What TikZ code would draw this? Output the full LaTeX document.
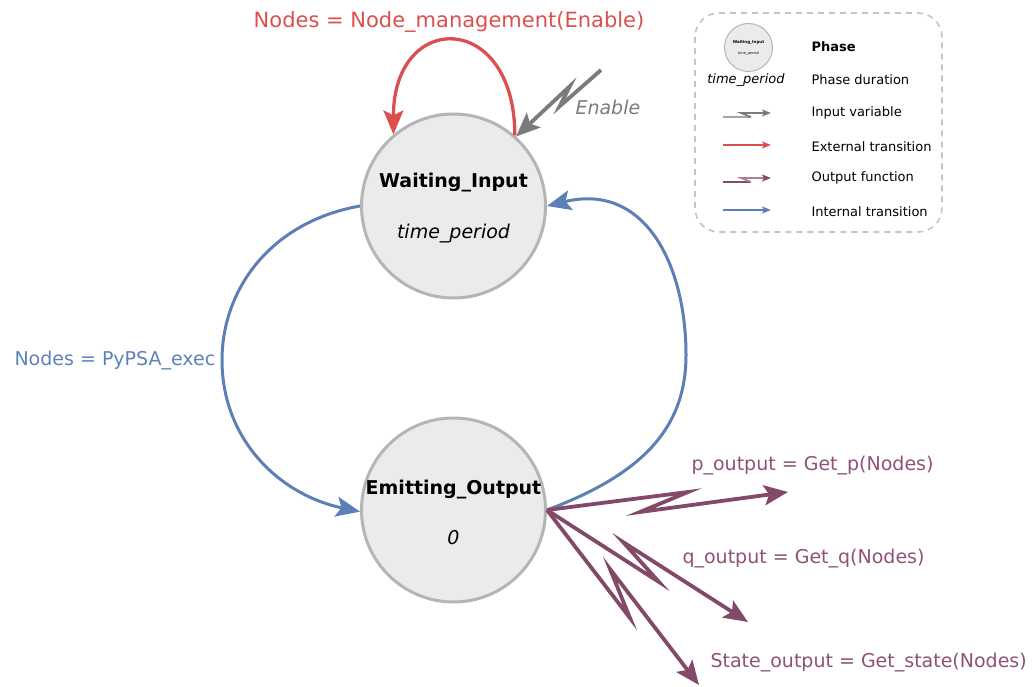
\documentclass[tikz,border=0pt]{standalone}
\usepackage{fontspec}
\setmainfont{DejaVu Sans}
\usetikzlibrary{arrows.meta}
\definecolor{cred}{HTML}{DC4F4F}
\definecolor{cblue}{HTML}{5B80B6}
\definecolor{cbluet}{HTML}{5E82B8}
\definecolor{cpurp}{HTML}{824A68}
\definecolor{cpurpl}{HTML}{B07D97}
\definecolor{cpurpt}{HTML}{8D5275}
\definecolor{cgray}{HTML}{7B7B7B}
\definecolor{cgrayl}{HTML}{A5A5A5}
\definecolor{cfill}{HTML}{EBEBEB}
\definecolor{cstroke}{HTML}{B5B5B5}
\definecolor{cdash}{HTML}{C4C4C4}
\begin{document}
\begin{tikzpicture}[x=1pt,y=-1pt,
  phase/.style={circle,draw=cstroke,fill=cfill,line width=3pt,minimum size=184pt,inner sep=0pt},
  smallphase/.style={circle,draw=cstroke,fill=cfill,line width=1pt,minimum size=48pt,inner sep=0pt},
  big/.style={font=\fontsize{19}{22}\selectfont},
  bigtip/.style={-{Stealth[length=24pt,width=20pt,inset=5pt]}},
  smalltip/.style={-{Stealth[length=9pt,width=7pt,inset=2pt]}},
  redarr/.style={draw=cred,line width=3.3pt,bigtip},
  bluearr/.style={draw=cblue,line width=3pt,bigtip},
  grayarr/.style={draw=cgray,line width=3.8pt,bigtip},
  purparr/.style={draw=cpurp,line width=3.8pt,bigtip},
  legline/.style={line width=1.6pt},
  legtext/.style={font=\fontsize{13}{15}\selectfont,anchor=base west},
  lbl/.style={big,anchor=base west}
]
\useasboundingbox (0,0) rectangle (1033,687);

% phases
\node[phase] (WI) at (453.5,206) {};
\node[phase] (EO) at (453.5,510) {};
\node[big,anchor=base,font=\fontsize{19}{22}\selectfont\bfseries] (WIt) at (453.5,188) {Waiting\_Input};
\node[big,anchor=base,font=\fontsize{19}{22}\selectfont\itshape] (WId) at (453.5,238) {time\_period};
\node[big,anchor=base,font=\fontsize{19}{22}\selectfont\bfseries] (EOt) at (453.5,494) {Emitting\_Output};
\node[big,anchor=base,font=\fontsize{19}{22}\selectfont\itshape] (EOd) at (453.5,544) {0};

% external transition (self loop)
\draw[redarr] (WI.49) .. controls +(0,-125) and +(0,-125) .. (WI.130);
\node[anchor=base,text=cred,font=\fontsize{21}{24}\selectfont] (extl) at (449,27.5) {Nodes = Node\_management(Enable)};

% input variable
\coordinate (en0) at (601,70);
\coordinate (en1) at (559.5,106.5);
\coordinate (en2) at (570,86);
\draw[grayarr] (en0) -- (en1) -- (en2) -- (WI.48);
\node[lbl,text=cgray,font=\fontsize{19}{22}\selectfont\itshape] (enl) at (572,115) {Enable};

% internal transitions
\draw[bluearr] (WI.180) .. controls (270,222) and (222,290) .. (222,360)
  .. controls (222,440) and (280,495) .. (EO.181);
\node[lbl,text=cbluet] (intl) at (11,365) {Nodes = PyPSA\_exec};
\draw[bluearr] (EO.east) .. controls (640,475) and (686,430) .. (686,355)
  .. controls (686,265) and (645,182) .. (WI.0);

% output functions
\coordinate (p1) at (688,492);
\coordinate (p2) at (640,512);
\coordinate (p3) at (788,492);
\draw[purparr] (EO.east) -- (p1) -- (p2) -- (p3);
\node[lbl,text=cpurpt] (pl) at (688,470) {p\_output = Get\_p(Nodes)};
\coordinate (q1) at (659,582);
\coordinate (q2) at (623,542);
\coordinate (q3) at (748,622);
\draw[purparr] (EO.east) -- (q1) -- (q2) -- (q3);
\node[lbl,text=cpurpt] (ql) at (679,563) {q\_output = Get\_q(Nodes)};
\coordinate (s1) at (630,618);
\coordinate (s2) at (610,569);
\coordinate (s3) at (699,685);
\draw[purparr] (EO.east) -- (s1) -- (s2) -- (s3);
\node[lbl,text=cpurpt] (sl) at (707,667) {State\_output = Get\_state(Nodes)};

% legend
\draw[cdash,line width=1.6pt,dash pattern=on 6pt off 5pt,rounded corners=24pt] (695,13) rectangle (942,232);
\node[smallphase] (LP) at (748.5,47.5) {};
\node[anchor=base,font=\fontsize{4}{5}\selectfont\bfseries] (LPt) at (748.5,44) {Waiting\_Input};
\node[anchor=base,font=\fontsize{3.5}{4}\selectfont\itshape] (LPd) at (748.5,55) {time\_period};
\node[legtext,font=\fontsize{13}{15}\selectfont\bfseries] (lg1) at (808,52) {Phase};
\node[anchor=base,font=\fontsize{13}{15}\selectfont\itshape] (lg2d) at (746,84) {time\_period};
\node[legtext] (lg2) at (808,85) {Phase duration};
\node[legtext] (lg3) at (808,117) {Input variable};
\node[legtext] (lg4) at (808,152) {External transition};
\node[legtext] (lg5) at (808,182) {Output function};
\node[legtext] (lg6) at (808,217) {Internal transition};

\coordinate (ga) at (723,117); \coordinate (gb) at (751,117);
\coordinate (gc) at (741,113); \coordinate (gd) at (771,113);
\draw[legline,cgrayl] (ga) -- (gb);
\draw[legline,cgray,smalltip] (gb) -- (gc) -- (gd);
\coordinate (ra) at (723,145); \coordinate (rb) at (771,145);
\draw[legline,cred,smalltip] (ra) -- (rb);
\coordinate (pa) at (723,182); \coordinate (pb) at (751,182);
\coordinate (pc) at (741,178); \coordinate (pd) at (771,178);
\draw[legline,cpurp] (pa) -- (pb);
\draw[legline,cpurpl,-{Stealth[length=9pt,width=7pt,inset=2pt,color=cpurp,fill=cpurp]}] (pb) -- (pc) -- (pd);
\coordinate (ba) at (723,210); \coordinate (bb) at (771,210);
\draw[legline,cblue,smalltip] (ba) -- (bb);
\end{tikzpicture}
\end{document}
